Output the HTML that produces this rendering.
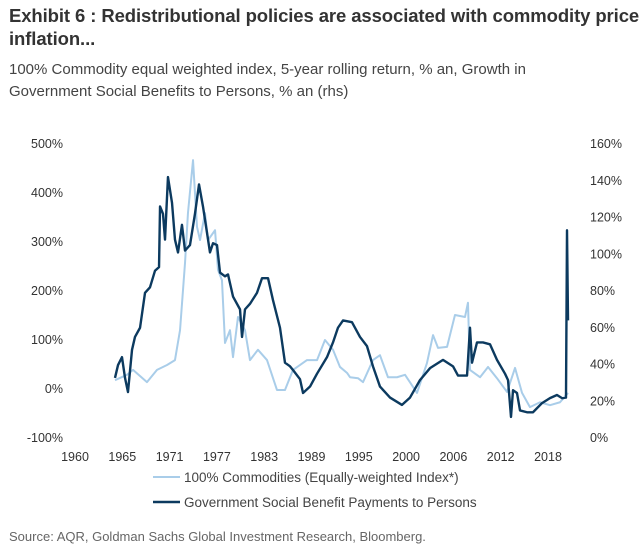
<!DOCTYPE html>
<html><head><meta charset="utf-8"><style>
body{margin:0;background:#fff;font-family:"Liberation Sans",sans-serif;}
#wrap{position:relative;width:642px;height:558px;overflow:hidden}
.t{position:absolute;left:9px;top:4px;font-size:18.5px;font-weight:bold;color:#333;line-height:23px;width:632px;letter-spacing:-0.1px}
.s{position:absolute;left:9px;top:59px;font-size:15px;color:#444;line-height:22px;width:592px}
.src{position:absolute;left:9px;top:529px;font-size:13px;color:#666}
</style></head><body><div id="wrap">
<div class="t">Exhibit 6 : Redistributional policies are associated with commodity price inflation...</div>
<div class="s">100% Commodity equal weighted index, 5-year rolling return, % an, Growth in Government Social Benefits to Persons, % an (rhs)</div>
<svg id="c" width="642" height="558" style="position:absolute;left:0;top:0"></svg>
<div class="src">Source: AQR, Goldman Sachs Global Investment Research, Bloomberg.</div>
</div>
<script>
const leftTicks=[500,400,300,200,100,0,-100];
const rightTicks=[160,140,120,100,80,60,40,20,0];
const xTickLabels=[1960,1965,1971,1977,1983,1989,1995,2000,2006,2012,2018];
const commYears=[4.24,5.78,6.56,8.35,9.64,10.93,11.95,12.60,13.24,13.62,14.27,14.78,15.17,15.81,16.20,17.10,17.48,17.99,18.38,19.02,19.41,20.05,20.95,21.59,22.62,23.78,25.06,26.09,27.12,28.92,30.21,31.23,32.26,33.16,34.06,34.45,35.48,36.12,37.40,38.30,39.33,40.49,41.52,43.06,44.34,45.12,45.76,46.92,47.94,49.23,49.61,49.87,51.16,52.19,53.34,54.63,55.66,56.56,57.58,58.87,60.15,61.44,62.47];
const commValues=[18,29,39,14,39,49,59,120,257,359,467,331,304,359,304,324,243,222,94,120,65,147,120,59,80,59,-2,-2,39,59,59,100,80,45,33,24,22,14,59,69,24,24,29,-8,53,110,84,86,151,147,176,39,24,45,22,-6,43,-8,-37,-27,-33,-27,-8];
const govYears=[4.24,4.63,5.14,5.53,5.91,6.43,6.81,7.46,8.10,8.74,9.38,9.90,10.03,10.41,10.67,11.05,11.57,11.95,12.34,12.85,13.24,13.88,14.52,15.04,15.55,16.20,16.45,16.84,17.35,17.74,18.38,18.77,19.41,20.31,20.57,20.95,21.59,22.49,23.14,23.91,24.55,25.45,26.09,26.74,27.12,28.02,28.41,29.31,30.21,31.49,32.26,32.90,33.55,34.70,35.73,36.63,37.40,38.30,39.59,41.13,42.16,43.44,44.73,46.40,47.69,48.33,49.49,49.87,50.13,50.77,51.54,52.44,53.34,54.37,54.76,55.14,55.40,55.91,56.30,57.20,57.97,59.13,60.15,61.05,61.70,62.21,62.34,62.47];
const govValues=[32.7,39.7,44,32.7,25,48,55,60,79,82,91,93,126,122,108,142,128,108,101,116,102,105,122,138,126,108,101,106,105,90,88,89,77,70,55,70,73,79,87,87,75,60,41,39,37,32,24.5,28,35,44,52,60,64,63,55,50,39,28,22,18,22,31.5,38,42.5,39,34,34,60,41,52,52,51,42.5,35,31.5,11.5,26,24.5,15,14,14,19,21.7,23.4,21.7,22,113,64];
const svg=document.getElementById('c');const NS='http://www.w3.org/2000/svg';
const xS=y=>82+y*7.78;
const xLab=i=>75+i*47.3;
const yL=v=>389-v*0.49;
const yR=v=>438-v*1.8375;
function mk(t,a){const e=document.createElementNS(NS,t);for(const k in a)e.setAttribute(k,a[k]);svg.appendChild(e);return e;}
leftTicks.forEach(v=>{const e=mk('text',{x:63,y:yL(v)+4,'font-size':12.5,fill:'#333','text-anchor':'end','font-family':'Liberation Sans'});e.textContent=v+'%';

});
rightTicks.forEach(v=>{const e=mk('text',{x:590,y:yR(v)+4,'font-size':12.5,fill:'#333','font-family':'Liberation Sans'});e.textContent=v+'%';

});
xTickLabels.forEach((v,i)=>{const e=mk('text',{x:xLab(i),y:461,'font-size':12.5,fill:'#333','text-anchor':'middle','font-family':'Liberation Sans'});e.textContent=v;

});
const p1=mk('polyline',{points:commYears.map((y,i)=>xS(y)+','+yL(commValues[i])).join(' '),fill:'none',stroke:'#a9cde9','stroke-width':2,'stroke-linejoin':'round'});


const p2=mk('polyline',{points:govYears.map((y,i)=>xS(y)+','+yR(govValues[i])).join(' '),fill:'none',stroke:'#0c3a5f','stroke-width':2.4,'stroke-linejoin':'round'});


const l1=mk('line',{x1:153,y1:477,x2:180,y2:477,stroke:'#a9cde9','stroke-width':2});


const t1=mk('text',{x:184,y:482,'font-size':13.5,fill:'#444','font-family':'Liberation Sans'});t1.textContent='100% Commodities (Equally-weighted Index*)';


const l2=mk('line',{x1:153,y1:502,x2:180,y2:502,stroke:'#0c3a5f','stroke-width':2.4});


const t2=mk('text',{x:184,y:507,'font-size':13.5,fill:'#444','font-family':'Liberation Sans'});t2.textContent='Government Social Benefit Payments to Persons';


</script></body></html>
